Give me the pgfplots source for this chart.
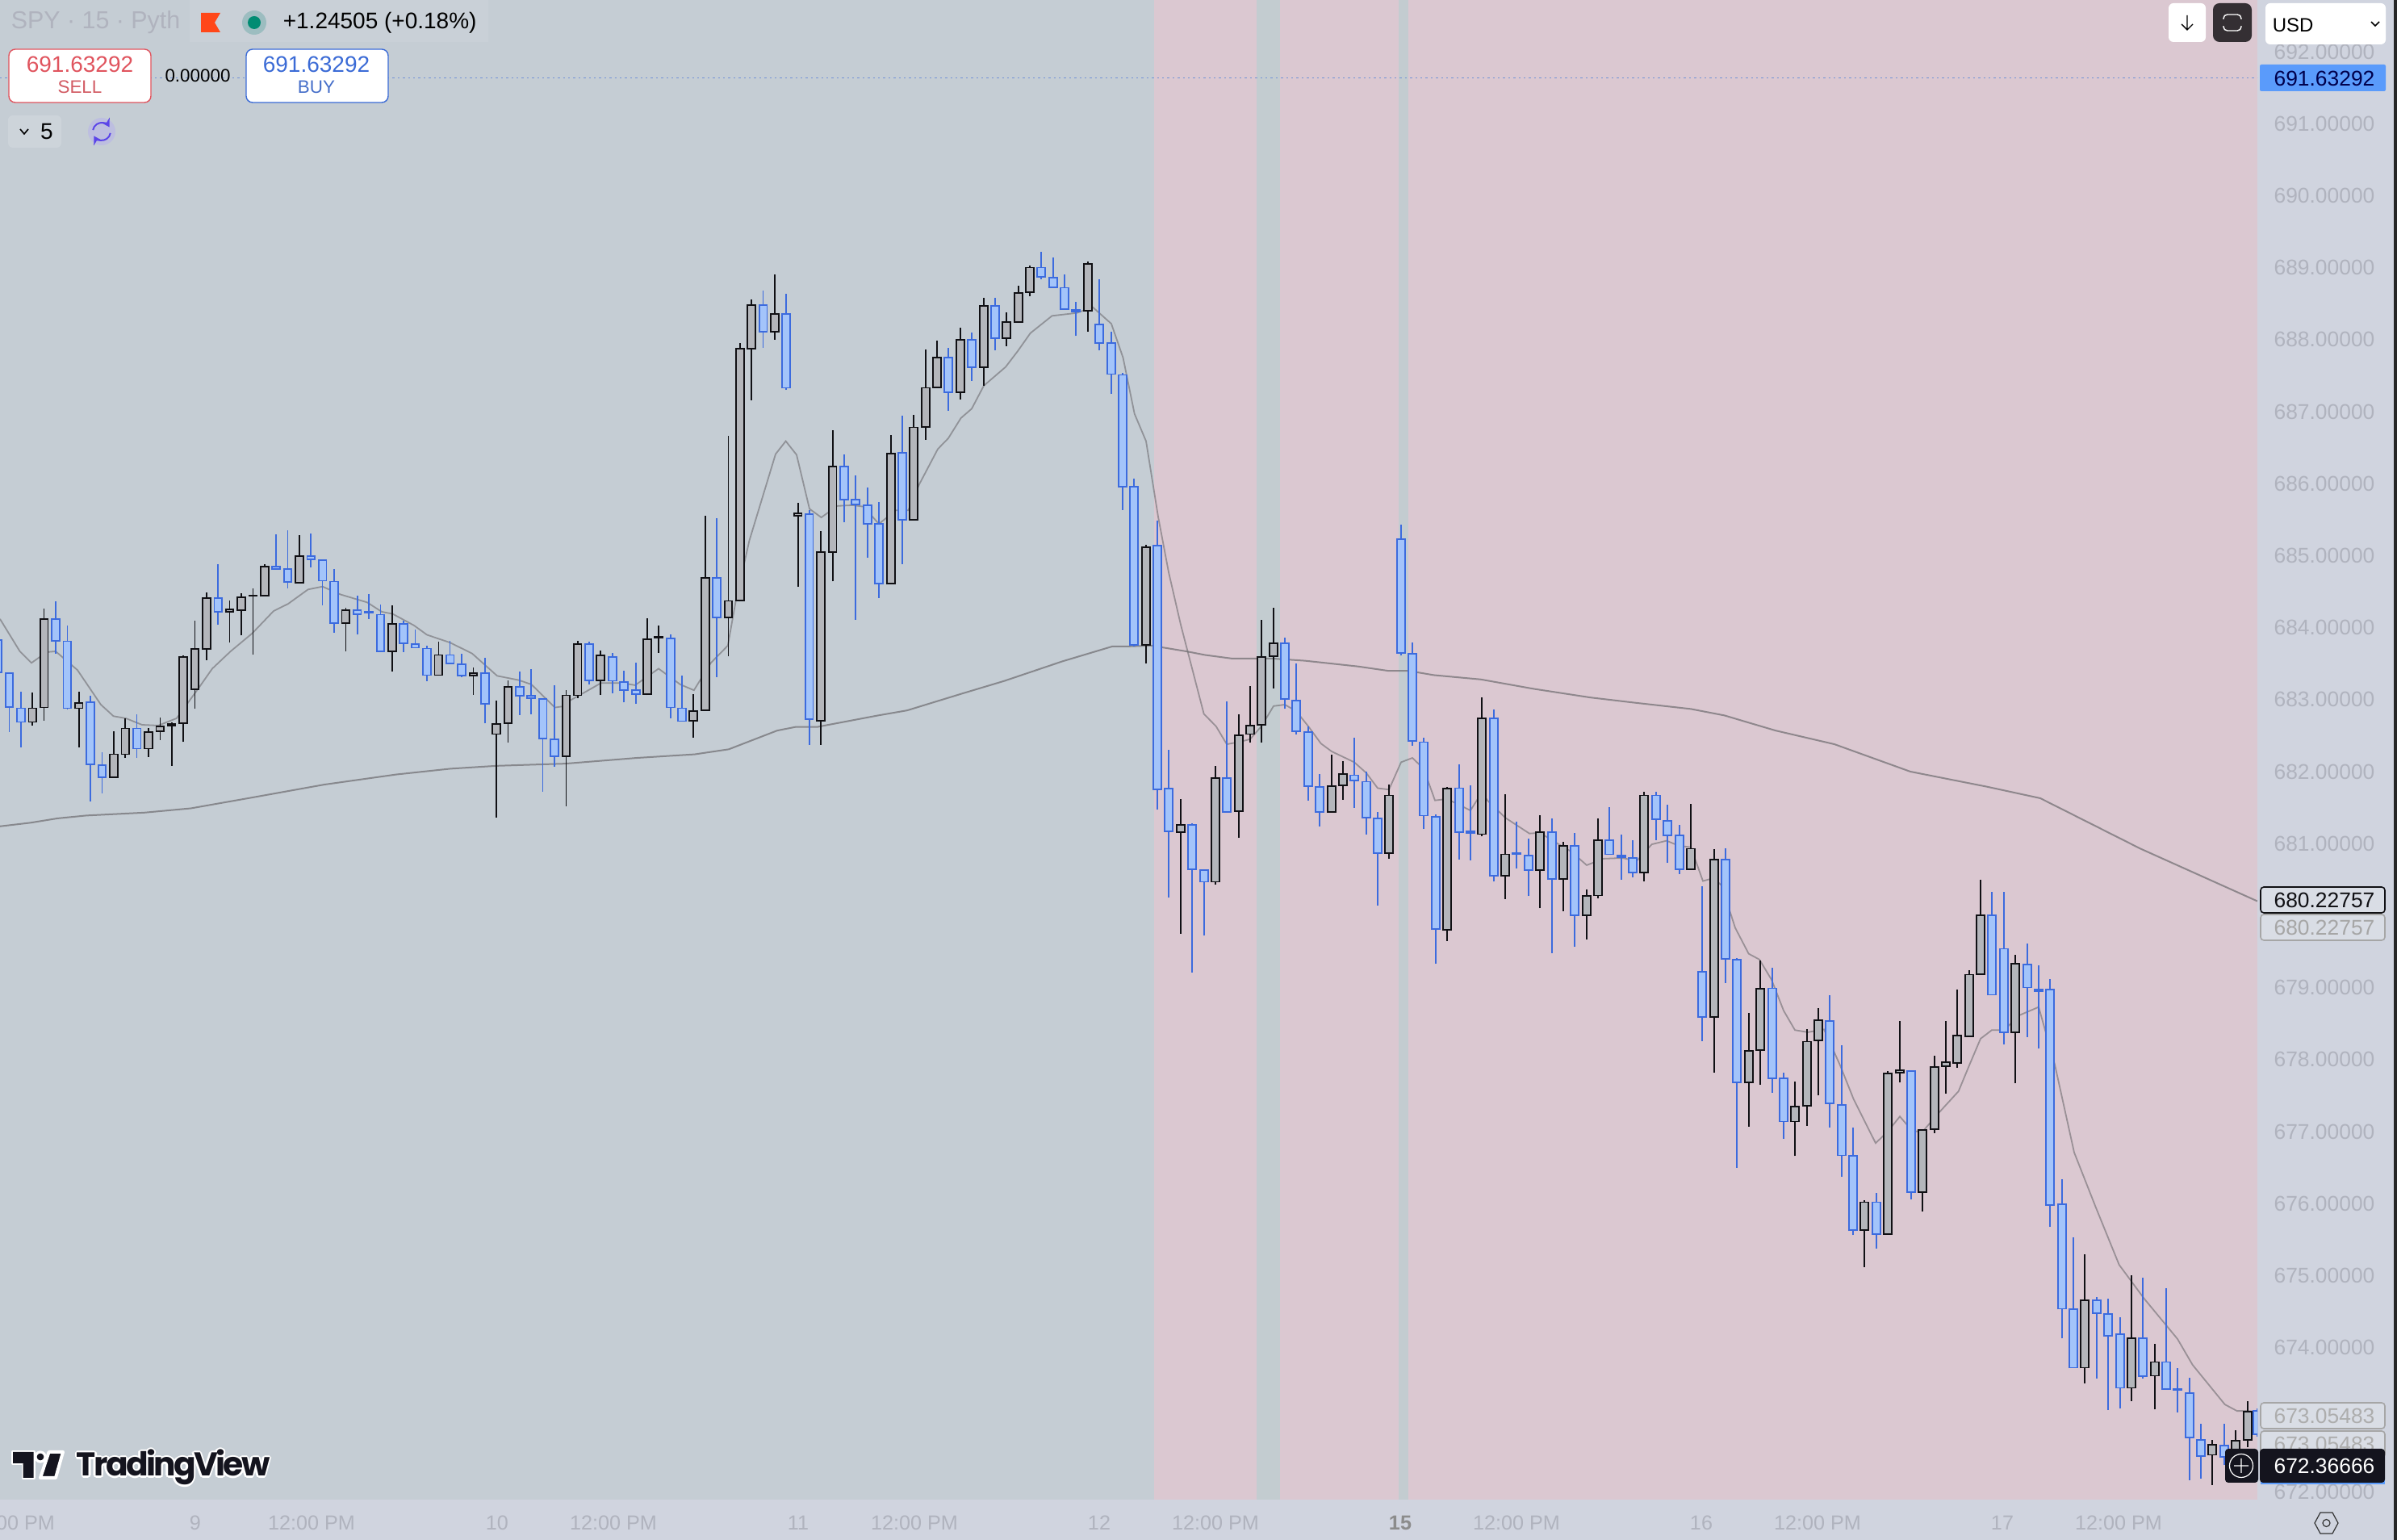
\documentclass[border=0pt]{standalone}
\usepackage{fontspec}
\setmainfont{Liberation Sans}
\newfontfamily\logofont{Poppins}[LetterSpace=-6.6]
\usepackage{pgfplots}
\usepackage{pgfplotstable}
\pgfplotsset{compat=1.18}
\usetikzlibrary{arrows.meta}

\definecolor{bgblue}{RGB}{197,205,212}
\definecolor{bgpink}{RGB}{219,200,209}
\definecolor{bgband}{RGB}{195,204,208}
\definecolor{panel}{RGB}{208,212,223}
\definecolor{ticktxt}{RGB}{176,179,190}
\definecolor{edgeblue}{RGB}{60,107,222}
\definecolor{fillblue}{RGB}{163,196,250}
\definecolor{edgeblack}{RGB}{16,16,20}
\definecolor{fillblack}{RGB}{180,182,187}
\definecolor{maline}{RGB}{110,108,112}
\definecolor{labelblue}{RGB}{90,155,251}
\definecolor{sellred}{RGB}{224,84,94}
\definecolor{buyblue}{RGB}{59,107,214}
\definecolor{darkbox}{RGB}{20,20,30}
\definecolor{darkbtn}{RGB}{52,47,51}
\definecolor{synchalo}{RGB}{189,190,224}
\definecolor{syncblue}{RGB}{91,69,232}

\newcommand\fs[1]{\fontsize{#1}{#1}\selectfont}

% x = position along the time scale, prices
\pgfplotstableread{
x hi top bot lo
-2.8 684.09 683.83 683.38 683.19
11.6 683.37 683.37 682.90 682.55
26 683.11 682.88 682.69 682.34
69 684.37 684.12 683.82 683.64
83.4 684.03 683.81 682.88 682.86
112.2 683.05 682.96 682.10 681.59
126.6 682.27 682.09 681.92 681.70
169.7 682.80 682.60 682.32 682.19
270.3 684.88 684.41 684.22 684.04
342 685.30 684.85 684.81 684.81
356.5 685.35 684.81 684.63 684.55
385.2 685.31 684.99 684.95 684.84
399.6 684.95 684.94 684.65 684.31
414 684.81 684.64 684.06 683.93
442.7 684.44 684.24 684.19 683.90
457 684.47 684.22 684.21 684.12
471.4 684.32 684.18 683.67 683.67
500 684.10 684.05 683.78 683.66
514.5 683.97 683.77 683.72 683.72
528.9 683.75 683.71 683.34 683.26
557.6 683.82 683.62 683.50 683.50
572 683.64 683.49 683.33 683.31
600.8 683.58 683.37 682.94 682.67
643.9 683.39 683.18 683.05 682.79
658 683.42 683.05 683.02 682.80
672.6 683.02 683.01 682.46 681.72
687 683.20 682.45 682.21 682.07
730 683.81 683.77 683.27 683.21
759 683.65 683.59 683.26 683.09
773 683.40 683.24 683.13 682.96
788 683.51 683.13 683.08 682.94
831 683.90 683.85 682.89 682.74
845 683.33 682.88 682.70 682.70
888 685.52 684.69 684.14 683.31
945.6 688.68 688.48 688.11 687.89
974 688.64 688.36 687.33 687.30
1002.7 685.63 685.58 682.73 682.37
1046 686.41 686.24 685.78 685.46
1060 686.11 685.78 685.71 684.11
1075 685.95 685.70 685.44 684.97
1089 685.74 685.44 684.61 684.41
1118 686.94 686.43 685.50 684.88
1175 687.89 687.75 687.27 687.01
1204 688.10 688.00 687.62 687.43
1233 688.58 688.47 688.02 687.85
1290 689.22 689.00 688.87 688.84
1305 689.14 688.86 688.73 688.73
1319 688.91 688.72 688.42 688.42
1333 688.52 688.41 688.39 688.05
1362 688.84 688.21 687.95 687.85
1377 688.11 687.95 687.52 687.25
1391 687.54 687.51 685.96 685.63
1405 686.07 685.96 683.76 683.74
1434 685.49 685.14 681.75 681.47
1448 682.30 681.76 681.17 680.25
1477 681.28 681.26 680.64 679.21
1492 680.64 680.63 680.47 679.72
1520 682.97 681.91 681.44 681.43
1592 683.86 683.78 683.01 682.87
1606 683.50 682.99 682.56 682.52
1621 682.63 682.55 681.80 681.60
1635 681.97 681.79 681.44 681.24
1678 682.47 681.95 681.88 681.50
1693 682.00 681.86 681.36 681.13
1707 681.44 681.35 680.87 680.14
1736 685.43 685.23 683.65 683.61
1750 683.79 683.64 682.43 682.36
1764 682.47 682.41 681.39 681.20
1779 681.41 681.37 679.81 679.33
1808 682.10 681.77 681.16 680.78
1822 681.81 681.17 681.15 680.77
1851 682.86 682.74 680.55 680.47
1879 681.31 680.87 680.85 680.65
1894 681.07 680.83 680.63 680.27
1923 681.35 681.16 680.51 679.48
1951 681.15 680.97 680.00 679.57
1994 681.51 681.05 680.85 680.85
2009 681.12 680.83 680.81 680.50
2023 681.05 680.80 680.60 680.53
2052 681.72 681.67 681.34 681.05
2066 681.54 681.32 681.11 680.73
2081 681.26 681.11 680.64 680.58
2109 680.41 679.22 678.59 678.26
2138 680.94 680.78 679.40 679.06
2152 679.41 679.39 677.68 676.50
2196 679.28 678.99 677.74 677.54
2210 677.82 677.74 677.14 676.90
2267 678.89 678.54 677.39 677.06
2282 678.20 677.37 676.67 676.37
2296 677.06 676.66 675.63 675.56
2325 676.15 676.02 675.58 675.38
2368 677.85 677.84 676.16 676.06
2468 680.33 680.00 678.90 678.90
2483 680.33 679.54 678.38 678.21
2512 679.61 679.32 679.00 678.31
2526 679.31 678.97 678.95 678.15
2540 679.12 678.97 675.98 675.68
2555 676.34 675.99 674.54 674.13
2569 675.53 674.53 673.72 673.72
2598 674.70 674.66 674.48 673.57
2612 674.68 674.47 674.16 673.13
2627 674.42 674.19 673.44 673.15
2655 674.97 674.13 673.60 673.57
2684 674.83 673.80 673.42 673.42
2698 673.72 673.43 673.41 673.10
2713 673.58 673.37 672.75 672.16
2727 672.94 672.72 672.49 672.18
2756 672.94 672.64 672.48 672.37
2797 673.15 673.12 672.80 672.76
}\bluecandles

\pgfplotstableread{
x hi top bot lo
40.3 683.10 682.88 682.69 682.64
54.7 684.26 684.12 682.89 682.71
97.8 683.11 682.95 682.88 682.34
140.9 682.56 682.24 681.92 681.92
155.3 682.74 682.60 682.24 682.19
184 682.60 682.55 682.32 682.20
198.4 682.75 682.63 682.56 682.44
212.8 682.68 682.66 682.64 682.08
227 683.61 683.59 682.67 682.41
241.5 684.10 683.70 683.14 682.87
255.9 684.49 684.41 683.70 683.55
284.6 684.38 684.25 684.22 683.79
299 684.48 684.42 684.24 683.89
313.4 684.54 684.45 684.44 683.62
327.8 684.88 684.85 684.44 684.44
370.9 685.28 684.99 684.62 684.62
428.3 684.27 684.24 684.06 683.67
485.8 684.31 684.05 683.67 683.39
543.3 683.80 683.62 683.34 683.34
586.4 683.45 683.37 683.33 683.07
615 682.99 682.66 682.52 681.36
629.5 683.27 683.18 682.67 682.40
701.4 683.13 683.06 682.21 681.52
715.7 683.82 683.77 683.06 683.02
744 683.68 683.61 683.27 683.06
802 684.13 683.84 683.08 683.06
816 684.03 683.87 683.86 683.65
859 683.08 682.84 682.71 682.47
874 685.55 684.69 682.85 682.85
902.5 686.66 684.37 684.14 683.60
917 687.95 687.87 684.38 684.36
931 688.56 688.48 687.87 687.16
960 688.90 688.36 688.11 688.00
988.7 685.73 685.59 685.55 684.57
1017 685.34 685.05 682.71 682.37
1031.7 686.74 686.24 685.05 684.64
1104 686.67 686.42 684.61 684.61
1132 686.96 686.78 685.50 685.50
1147 687.86 687.33 686.79 686.61
1161 687.99 687.75 687.34 687.34
1190 688.17 688.00 687.27 687.17
1219 688.58 688.47 687.62 687.36
1247 688.38 688.24 688.02 687.91
1262 688.75 688.65 688.24 688.24
1276 689.03 689.00 688.66 688.60
1348 689.08 689.05 688.40 688.11
1420 685.15 685.12 683.76 683.50
1463 681.62 681.26 681.16 679.75
1506 682.08 681.91 680.47 680.43
1535 682.80 682.50 681.45 681.08
1549 683.19 682.64 682.52 682.40
1563 684.11 683.59 682.65 682.40
1578 684.28 683.78 683.60 683.16
1650 682.23 681.80 681.44 681.44
1664 682.14 681.97 681.81 681.61
1721 681.82 681.67 680.87 680.79
1793 681.79 681.76 679.80 679.65
1836 683.03 682.74 681.13 681.10
1865 681.69 680.85 680.55 680.23
1908 681.39 681.16 680.63 680.10
1937 681.03 680.97 680.51 680.06
1966 680.36 680.27 680.00 679.67
1980 681.35 681.05 680.28 680.24
2037 681.72 681.67 680.60 680.48
2095 681.55 680.93 680.64 680.64
2124 680.92 680.78 678.59 677.82
2167 678.65 678.12 677.68 677.07
2181 679.38 678.98 678.13 677.65
2224 677.69 677.35 677.14 676.66
2239 678.42 678.25 677.36 677.08
2253 678.71 678.55 678.27 677.50
2310 676.05 676.02 675.63 675.12
2339 677.84 677.81 675.58 675.58
2354 678.54 677.85 677.82 677.68
2382 677.03 677.02 676.16 675.89
2397 678.05 677.90 677.03 676.98
2411 678.54 677.96 677.91 677.53
2425 678.97 678.33 677.95 677.89
2440 679.24 679.18 678.32 678.32
2454 680.50 680.00 679.19 679.19
2497 679.46 679.33 678.38 677.67
2583 675.30 674.66 673.72 673.50
2641 675.00 674.13 673.44 673.26
2670 674.05 673.80 673.61 673.14
2741 672.72 672.65 672.51 672.09
2770 672.85 672.71 672.46 672.37
2785 673.26 673.11 672.72 672.62
}\blackcandles

\pgfplotstableread{
x y
0 684.12
24.6 683.67
39 683.51
58 683.66
69 683.67
96 683.41
125 682.93
140.6 682.77
156 682.74
176 682.65
196 682.64
218.8 682.74
245.5 683.15
263 683.43
285.7 683.67
312.5 683.92
339 684.23
357 684.33
381.7 684.53
399.6 684.57
422 684.46
455 684.35
473 684.22
486.6 684.19
513 684.03
529 683.90
558 683.79
585 683.64
616 683.33
643 683.27
658.5 683.21
687.5 682.89
700 682.91
706.7 682.99
729 683.13
744.6 683.23
771 683.23
787 683.20
816 683.43
842.9 683.21
859.8 683.13
880.8 683.51
901.8 683.75
912 684.39
928.5 685.21
961 686.41
973.6 686.59
987 686.40
1003 685.65
1017.6 685.53
1037.5 685.69
1056.7 685.70
1070 685.68
1089 685.44
1110 685.63
1125.5 685.63
1139 685.99
1162 686.48
1175 686.63
1190.6 686.91
1204 687.04
1219 687.36
1246 687.62
1261 687.84
1276.7 688.09
1303.5 688.33
1334 688.37
1354 688.45
1377 688.22
1391.5 687.75
1405.7 686.97
1420 686.59
1435 685.54
1448 684.77
1463 684.04
1491.7 682.80
1506.7 682.63
1520 682.38
1535 682.41
1549 682.45
1563 682.63
1578 682.91
1592 682.93
1606 682.84
1621 682.63
1636.7 682.39
1650 682.28
1678 682.13
1693 681.98
1707 681.77
1721 681.75
1736 682.13
1750 682.19
1764 682.04
1778 681.60
1793 681.62
1822 681.46
1836 681.71
1843 681.60
1865 681.36
1895 681.14
1908 681.15
1930 681.00
1946.7 680.89
1966 680.70
1986.7 680.79
2010 680.80
2028 680.76
2046.7 680.99
2065 681.04
2080 680.97
2095 680.95
2110 680.48
2123 680.52
2133 680.42
2150 679.83
2166.7 679.47
2180 679.39
2195 679.11
2210 678.68
2224 678.41
2240 678.38
2260 678.42
2280 677.92
2296.7 677.45
2324 676.84
2339 677.00
2354 677.21
2370 677.00
2383 677.01
2403 677.27
2426.7 677.56
2440 677.92
2454 678.29
2468 678.41
2483 678.41
2503 678.62
2526 678.73
2546 677.93
2570 676.71
2596.7 675.95
2625.7 675.15
2656.7 674.68
2698 674.12
2716.7 673.76
2756.7 673.21
2771.7 673.12
2785 673.12
2798 673.11
}\fastma

\pgfplotstableread{
x y
0 681.24
38 681.29
71 681.35
107 681.39
178.6 681.43
236.6 681.49
312.5 681.64
402 681.82
491 681.96
558 682.04
615 682.08
670 682.10
700 682.11
789 682.19
860.7 682.24
903 682.31
963 682.57
985.7 682.62
1012.5 682.62
1088 682.78
1124 682.85
1191 683.08
1244.6 683.26
1316 683.53
1378.6 683.74
1400 683.74
1426.7 683.75
1470 683.67
1493 683.62
1526.7 683.57
1576.7 683.57
1616.7 683.54
1650 683.50
1683 683.46
1720 683.40
1745 683.40
1776.7 683.34
1835 683.28
1900 683.15
1970 683.03
2023 682.96
2095 682.87
2136.7 682.78
2166.7 682.68
2200 682.57
2273 682.38
2367 682.00
2462 681.79
2528 681.63
2652 680.93
2797 680.20
}\slowma

% wick, outer body, inner fill of one colour of candles
\newcommand\candles[3]{%
  \addplot[draw=none, no markers, forget plot, error bars/.cd, y dir=plus, y explicit, error mark=none,
    error bar style={line width=0.4pt, draw=#2}]
    table[x=x, y=lo, y error plus expr=\thisrow{hi}-\thisrow{lo}] {#1};
  \addplot[draw=none, no markers, forget plot, error bars/.cd, y dir=plus, y explicit, error mark=none,
    error bar style={line width=2.85pt, draw=#2}]
    table[x=x, y expr=\thisrow{bot}-0.01, y error plus expr=\thisrow{top}-\thisrow{bot}+0.02] {#1};
  \addplot[draw=none, no markers, forget plot, error bars/.cd, y dir=plus, y explicit, error mark=none,
    error bar style={line width=1.95pt, draw=#3}]
    table[x=x, y expr=\thisrow{bot}+0.01, y error plus expr={max(\thisrow{top}-\thisrow{bot}-0.02,0)}] {#1};
}

\tikzset{px/.style={x=0.25pt, y=-0.25pt, shift={(0pt,477pt)}},
  price/.style={font=\fs{6.6}, inner sep=0pt, anchor=center}}

\begin{document}
\begin{tikzpicture}
\useasboundingbox (0,0) rectangle (742.5pt,477pt);
\fill[panel] (0,0) rectangle (742.5pt,477pt);

\begin{axis}[
  at={(0pt,12.5pt)}, anchor=south west,
  scale only axis, width=699.25pt, height=464.5pt,
  xmin=0, xmax=2797, ymin=671.888, ymax=692.717,
  axis background/.style={fill=bgblue},
  axis line style={draw=none},
  major tick length=0pt,
  yticklabel pos=right,
  ytick={672,673,...,692},
  yticklabels={672.00000,673.00000,674.00000,675.00000,676.00000,677.00000,678.00000,679.00000,680.00000,681.00000,682.00000,683.00000,684.00000,685.00000,686.00000,687.00000,688.00000,689.00000,690.00000,691.00000,692.00000},
  yticklabel style={font=\fs{6.6}, color=ticktxt, anchor=center, xshift=20.75pt, inner sep=0pt},
  xtick={14,242,386,616,760,989,1133,1362,1506,1735,1879,2108,2252,2481,2625},
  xticklabels={12:00 PM,9,12:00 PM,10,12:00 PM,11,12:00 PM,12,12:00 PM,{\textcolor{black!45}{\textbf{15}}},12:00 PM,16,12:00 PM,17,12:00 PM},
  xticklabel style={font=\fs{6.3}, color=ticktxt, anchor=center, yshift=-7.2pt, inner sep=0pt},
]
% session shading
\addplot[draw=none, fill=bgpink, forget plot] coordinates {(1430,671.888) (1557,671.888) (1557,692.717) (1430,692.717)} -- cycle;
\addplot[draw=none, fill=bgband, forget plot] coordinates {(1557,671.888) (1586,671.888) (1586,692.717) (1557,692.717)} -- cycle;
\addplot[draw=none, fill=bgpink, forget plot] coordinates {(1586,671.888) (1733,671.888) (1733,692.717) (1586,692.717)} -- cycle;
\addplot[draw=none, fill=bgband, forget plot] coordinates {(1733,671.888) (1745,671.888) (1745,692.717) (1733,692.717)} -- cycle;
\addplot[draw=none, fill=bgpink, forget plot] coordinates {(1745,671.888) (2797,671.888) (2797,692.717) (1745,692.717)} -- cycle;
% last price line
\addplot[forget plot, color=buyblue!60!bgblue, line width=0.3pt, dash pattern=on 0.6pt off 1pt] coordinates {(0,691.633) (2797,691.633)};
% moving averages
\addplot[forget plot, color=maline, opacity=0.6, line width=0.45pt] table[x=x, y=y] {\fastma};
\addplot[forget plot, color=maline, opacity=0.7, line width=0.5pt] table[x=x, y=y] {\slowma};
\candles{\bluecandles}{edgeblue}{fillblue}
\candles{\blackcandles}{edgeblack}{fillblack}
\end{axis}

\begin{scope}[px]
% right edge
\fill[black!85] (2966,0) rectangle (2970,1908);
% legend row
\fill[white, opacity=0.08] (235,0) rectangle (605,52);
\node[anchor=west, inner sep=0pt, font=\fs{7.6}, text=ticktxt] at (13,28) {SPY · 15 · Pyth};
\fill[red!60!orange!90!white] (249,16) -- (273,16) -- (266,28) -- (273,40) -- (249,40) -- cycle;
\fill[bgband!80!teal] (315,28) circle (15);
\fill[teal!90!green] (315,28) circle (8);
\node[anchor=west, inner sep=0pt, font=\fs{7}] at (350,28) {+1.24505 (+0.18\%)};
% sell and buy
\filldraw[draw=sellred, fill=white, line width=0.35pt, rounded corners=2pt] (11,61) rectangle (187,127);
\node[inner sep=0pt, font=\fs{7}, text=sellred] at (99,80) {691.63292};
\node[inner sep=0pt, font=\fs{5.6}, text=sellred!85!gray] at (99,108) {SELL};
\node[inner sep=0pt, font=\fs{5.6}] at (245,94) {0.00000};
\filldraw[draw=buyblue, fill=white, line width=0.35pt, rounded corners=2pt] (305,61) rectangle (481,127);
\node[inner sep=0pt, font=\fs{7}, text=buyblue] at (392,80) {691.63292};
\node[inner sep=0pt, font=\fs{5.6}, text=buyblue!85!gray] at (392,108) {BUY};
% lots and sync
\fill[white, opacity=0.15, rounded corners=1.5pt] (10,143) rectangle (76,183);
\draw[line width=0.4pt] (25,160) -- (30,166) -- (35,160);
\node[inner sep=0pt, font=\fs{7}] at (58,163) {5};
\fill[synchalo] (126,163) circle (17);
\draw[color=syncblue, line width=0.5pt, -{Stealth[length=2.5pt,width=3pt]}] (115.2,161.1) arc[start angle=190, end angle=330, radius=11];
\draw[color=syncblue, line width=0.5pt, -{Stealth[length=2.5pt,width=3pt]}] (136.8,164.9) arc[start angle=10, end angle=150, radius=11];
% top right buttons
\fill[white, rounded corners=1.5pt] (2687,4) rectangle (2733,52);
\draw[line width=0.35pt] (2710,19) -- (2710,37) (2703,30) -- (2710,37) -- (2717,30);
\fill[darkbtn, rounded corners=2pt] (2742,4) rectangle (2790,52);
\draw[white, line width=0.35pt, rounded corners=1.2pt] (2755,18) rectangle (2777,38);
\fill[darkbtn] (2752,24) rectangle (2780,32);
\fill[labelblue, rounded corners=0.5pt] (2800,80) rectangle (2956,113);
\node[price, text=blue!30!black] at (2880,97) {691.63292};
\fill[white, rounded corners=1.5pt] (2807,4) rectangle (2956,55);
\node[anchor=west, inner sep=0pt, font=\fs{6}] at (2815,31) {USD};
\draw[line width=0.4pt] (2938,27) -- (2943,32) -- (2948,27);
% moving average labels
\filldraw[draw=edgeblack, fill=panel!80!white, line width=0.4pt, rounded corners=1pt] (2801,1099) rectangle (2955,1131);
\node[price, text=edgeblack] at (2880,1115) {680.22757};
\filldraw[draw=black!35, fill=panel!80!white, line width=0.4pt, rounded corners=1pt] (2801,1133) rectangle (2955,1165);
\node[price, text=black!35] at (2880,1149) {680.22757};
\filldraw[draw=black!35, fill=panel!80!white, line width=0.4pt, rounded corners=1pt] (2801,1738) rectangle (2955,1770);
\node[price, text=black!32] at (2880,1754) {673.05483};
\filldraw[draw=black!35, fill=panel!80!white, line width=0.4pt, rounded corners=1pt] (2801,1773) rectangle (2955,1806);
\node[price, text=black!32] at (2880,1789) {673.05483};
% crosshair label
\fill[labelblue] (2801,1825) rectangle (2955,1839);
\fill[darkbox, rounded corners=1pt] (2800,1795) rectangle (2955,1837);
\node[price, text=white] at (2880,1816) {672.36666};
\fill[darkbox, rounded corners=1pt] (2757,1795) rectangle (2798,1837);
\draw[white, line width=0.3pt] (2777,1816) circle (14.5) (2768,1816) -- (2786,1816) (2777,1807) -- (2777,1825);
% settings
\draw[black!80, line width=0.3pt] (2868,1887) -- (2875,1874) -- (2890,1874) -- (2897,1887) -- (2890,1900) -- (2875,1900) -- cycle;
\draw[black!80, line width=0.3pt] (2882.5,1887) circle (4.5);
% logo
\foreach \a in {0,45,...,315}
  \node[inner sep=0pt, anchor=base west, font=\logofont\bfseries\fs{10.2}, text=white] at ([shift={(\a:2.5)}]94,1829) {TradingView};
\node[inner sep=0pt, anchor=base west, font=\logofont\bfseries\fs{10.2}, text=darkbox] at (94,1829) {TradingView};
\draw[white, line width=1pt, fill=darkbox, line join=round] (16,1799) -- (41.5,1799) -- (41.5,1831) -- (28.7,1831) -- (28.7,1813) -- (16,1813) -- cycle;
\draw[white, line width=1pt, fill=darkbox, line join=round] (50,1831) -- (60.6,1799) -- (78,1799) -- (69,1831) -- cycle;
\draw[white, line width=0.8pt, fill=darkbox] (50,1805) circle (6);
\fill[darkbox] (16,1799) -- (41.5,1799) -- (41.5,1831) -- (28.7,1831) -- (28.7,1813) -- (16,1813) -- cycle;
\end{scope}
\end{tikzpicture}
\end{document}
